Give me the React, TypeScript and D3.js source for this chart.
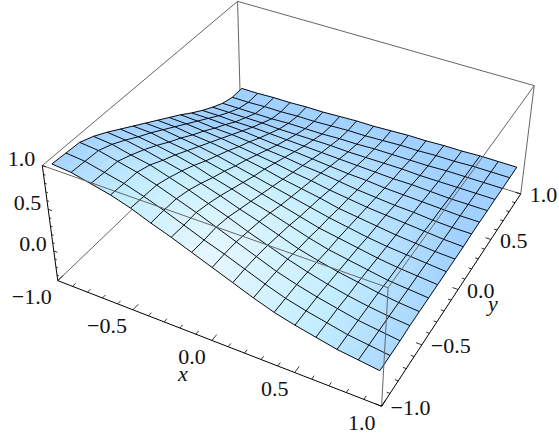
import React from "react";
import * as d3 from "d3";

// z heights: one row per mesh line in y, one column per mesh line in x
const zRow00 = [1.00,.98,.93,.88,.81,.72,.64,.55,.46,.37,.28,.20,.14,.09,.04,.01,-.02];
const zRow01 = [.99,.97,.92,.87,.80,.72,.63,.54,.46,.37,.28,.20,.14,.09,.04,.01,-.02];
const zRow02 = [.98,.96,.91,.86,.79,.71,.63,.54,.45,.36,.27,.20,.14,.09,.04,.01,-.02];
const zRow03 = [.92,.90,.85,.81,.74,.67,.59,.51,.42,.34,.26,.19,.13,.08,.04,.01,-.01];
const zRow04 = [.84,.82,.78,.73,.68,.61,.54,.46,.39,.31,.23,.17,.12,.08,.04,.01,-.01];
const zRow05 = [.75,.73,.70,.66,.61,.54,.48,.41,.35,.28,.21,.15,.11,.07,.03,.01,-.01];
const zRow06 = [.66,.65,.61,.58,.53,.48,.42,.36,.30,.24,.18,.14,.10,.06,.03,.01,-.01];
const zRow07 = [.57,.56,.53,.50,.46,.41,.36,.31,.26,.21,.16,.12,.08,.05,.03,.01,-.01];
const zRow08 = [.48,.47,.44,.42,.39,.35,.31,.26,.22,.18,.13,.10,.07,.04,.02,.00,-.01];
const zRow09 = [.39,.38,.36,.34,.31,.28,.25,.21,.18,.14,.11,.08,.06,.04,.02,.00,-.01];
const zRow10 = [.30,.29,.27,.26,.24,.21,.19,.16,.14,.11,.08,.06,.04,.03,.01,.00,.00];
const zRow11 = [.20,.20,.19,.18,.16,.14,.13,.11,.09,.07,.06,.04,.03,.02,.01,.00,.00];
const zRow12 = [.11,.11,.10,.10,.09,.08,.07,.06,.05,.04,.03,.02,.02,.01,.00,.00,.00];
const zRow13 = [.03,.03,.03,.03,.02,.02,.02,.02,.01,.01,.01,.01,.00,.00,.00,.00,.00];
const zRow14 = [-.04,-.04,-.04,-.04,-.03,-.03,-.03,-.02,-.02,-.01,-.01,-.01,-.01,.00,.00,.00,.00];
const zRow15 = [-.08,-.08,-.07,-.07,-.06,-.06,-.05,-.04,-.04,-.03,-.02,-.02,-.01,-.01,.00,.00,.00];
const zRow16 = [-.08,-.08,-.07,-.07,-.06,-.06,-.05,-.04,-.04,-.03,-.02,-.02,-.01,-.01,.00,.00,.00];
const zGrid = [zRow00,zRow01,zRow02,zRow03,zRow04,zRow05,zRow06,zRow07,zRow08,zRow09,zRow10,zRow11,zRow12,zRow13,zRow14,zRow15,zRow16];
const meshExtent = 0.965;
const xyTicks = d3.range(-10, 11).map(v => v / 10);
const zTicks = d3.range(-3, 11).map(v => v / 10);
const xLabels = [-1, -0.5, 0, 0.5, 1];
const yLabels = [-1, -0.5, 0, 0.5, 1];
const zLabels = [0, 0.5, 1];
const zMin = -0.37;
const cameraCorners = [
  [-1,-1,-1,59,281.5],[-1,-1,1,41,166],[1,-1,-1,381.7,406.7],[1,-1,1,388,285.7],
  [1,1,-1,520,195.7],[1,1,1,535,85],[-1,1,1,238,3],[-1,1,-1,240,103],
];

function solve(A: number[][], b: number[]) {
  const n = b.length; const M = A.map((r, i) => [...r, b[i]]);
  for (let c = 0; c < n; c++) {
    let p = c; for (let r = c + 1; r < n; r++) if (Math.abs(M[r][c]) > Math.abs(M[p][c])) p = r;
    [M[c], M[p]] = [M[p], M[c]];
    for (let r = 0; r < n; r++) if (r !== c) { const f = M[r][c] / M[c][c]; for (let k = c; k <= n; k++) M[r][k] -= f * M[c][k]; }
  }
  return M.map((r, i) => r[n] / r[i]);
}
function calibrate() {
  const rows: number[][] = []; const rhs: number[] = [];
  for (const [x,y,z,u,v] of cameraCorners) {
    rows.push([x,y,z,1,0,0,0,0,-u*x,-u*y,-u*z]); rhs.push(u);
    rows.push([0,0,0,0,x,y,z,1,-v*x,-v*y,-v*z]); rhs.push(v);
  }
  const AtA = d3.range(11).map(i => d3.range(11).map(j => d3.sum(rows, r => r[i]*r[j])));
  const Atb = d3.range(11).map(i => d3.sum(rows, (r, k) => r[i]*rhs[k]));
  return solve(AtA, Atb);
}
const cam = calibrate();
const zBox = d3.scaleLinear().domain([zMin, 1]).range([-1, 1]);
const project = (x: number, y: number, z: number): [number, number] => {
  const b = zBox(z);
  const w = cam[8]*x + cam[9]*y + cam[10]*b + 1;
  return [(cam[0]*x+cam[1]*y+cam[2]*b+cam[3])/w, (cam[4]*x+cam[5]*y+cam[6]*b+cam[7])/w];
};
const nodeScale = d3.scaleLinear().domain([0, 16]).range([-meshExtent, meshExtent]);
const node = (i: number, j: number) => project(nodeScale(i), nodeScale(j), zGrid[j][i]);
const lerp = (a: [number,number], b: [number,number], t: number): [number,number] => [a[0]+(b[0]-a[0])*t, a[1]+(b[1]-a[1])*t];
const shade = d3.scaleLinear<string>().domain([0, 0.5, 1]).range(["#e8f8ff", "#c4eeff", "#a0d0ff"]).clamp(true);
const shadeAt = (x: number, y: number) => shade(Math.sqrt(((x+0.05)/0.95)**2*(x < -0.05 ? 0.95 : 0.62) + ((y+1)/1.95)**2));
const poly = (p: [number,number][]) => "M" + p.map(q => q[0].toFixed(2)+","+q[1].toFixed(2)).join("L") + "Z";

const SUB = 3;
function patches() {
  const out: React.ReactNode[] = [];
  for (let j = 15; j >= 0; j--) for (let i = 0; i < 16; i++) {
    const a = node(i,j), b = node(i+1,j), c = node(i+1,j+1), d = node(i,j+1);
    for (let s = 0; s < SUB; s++) for (let t = 0; t < SUB; t++) {
      const g = (u: number, v: number) => lerp(lerp(a,b,u), lerp(d,c,u), v);
      const u0 = s/SUB, u1 = (s+1)/SUB, v0 = t/SUB, v1 = (t+1)/SUB;
      const col = shadeAt(nodeScale(i+(u0+u1)/2), nodeScale(j+(v0+v1)/2));
      out.push(<path key={`${i}-${j}-${s}-${t}`} d={poly([g(u0,v0),g(u1,v0),g(u1,v1),g(u0,v1)])} fill={col} stroke={col} strokeWidth={0.6} />);
    }
  }
  return out;
}
const line = d3.line();
const fmt = (v: number) => (v < 0 ? "\u2212" : "") + Math.abs(v).toFixed(1);
const Seg = ({a, b, c, w = 1}: any) => <path d={line([a, b]) as string} stroke={c} strokeWidth={w} fill="none" />;
const GREY = "#666";
const FAMILY = "Liberation Serif";

export default function App() {
  const isMajor = (v: number) => Math.abs(v*2 - Math.round(v*2)) < 1e-6;
  return (
    <svg width={559} height={435} style={{position:"absolute",left:0,top:0,background:"#fff"}}>
      <Seg a={project(-1,-1,1)} b={project(-1,1,1)} c={GREY} />
      <Seg a={project(-1,1,1)} b={project(1,1,1)} c={GREY} />
      <Seg a={project(-1,1,1)} b={project(-1,1,zMin)} c={GREY} />
      <Seg a={project(-1,-1,zMin)} b={project(-1,1,zMin)} c={GREY} />
      <Seg a={project(1,1,zMin)} b={project(-1,1,zMin)} c={GREY} />
      <Seg a={project(1,1,1)} b={project(1,1,zMin)} c={GREY} />
      {patches()}
      {d3.range(17).map(k => (
        <g key={k} fill="none" stroke="#000" strokeWidth={0.95}>
          <path d={line(d3.range(17).map(i => node(i,k))) as string} />
          <path d={line(d3.range(17).map(j => node(k,j))) as string} />
        </g>
      ))}
      <Seg a={project(-1,-1,1)} b={project(1,-1,1)} c={GREY} />
      <Seg a={project(1,-1,1)} b={project(1,1,1)} c={GREY} />
      <Seg a={project(1,-1,1)} b={project(1,-1,zMin)} c={GREY} />
      <Seg a={project(-1,-1,zMin)} b={project(1,-1,zMin)} c="#000" />
      <Seg a={project(1,-1,zMin)} b={project(1,1,zMin)} c="#000" />
      <Seg a={project(-1,-1,zMin)} b={project(-1,-1,1)} c="#000" />
      {xyTicks.map(v => <Seg key={"x"+v} a={project(v,-1,zMin)} b={project(v,-1+(isMajor(v)?0.05:0.028),zMin)} c="#000" w={0.8} />)}
      {xyTicks.map(v => <Seg key={"y"+v} a={project(1,v,zMin)} b={project(1-(isMajor(v)?0.034:0.019),v,zMin)} c="#000" w={0.8} />)}
      {zTicks.map(v => <Seg key={"z"+v} a={project(-1,-1,v)} b={project(-1+(isMajor(v)?0.024:0.013),-1,v)} c="#000" w={0.8} />)}
      <g fontFamily={FAMILY} fontSize={22} fill="#111">
        {xLabels.map(v => { const p = project(v,-1,zMin); return <text key={v} x={p[0]-6} y={p[1]+23.5} textAnchor="end">{fmt(v)}</text>; })}
        {yLabels.map(v => { const p = project(1,v,zMin); return <text key={v} x={p[0]+9} y={p[1]+8.5}>{fmt(v)}</text>; })}
        {zLabels.map(v => { const p = project(-1,-1,v); return <text key={v} x={p[0]-7} y={p[1]+0.5} textAnchor="end">{fmt(v)}</text>; })}
        <text x={178} y={381} fontStyle="italic">x</text>
        <text x={488} y={311} fontStyle="italic">y</text>
      </g>
    </svg>
  );
}
